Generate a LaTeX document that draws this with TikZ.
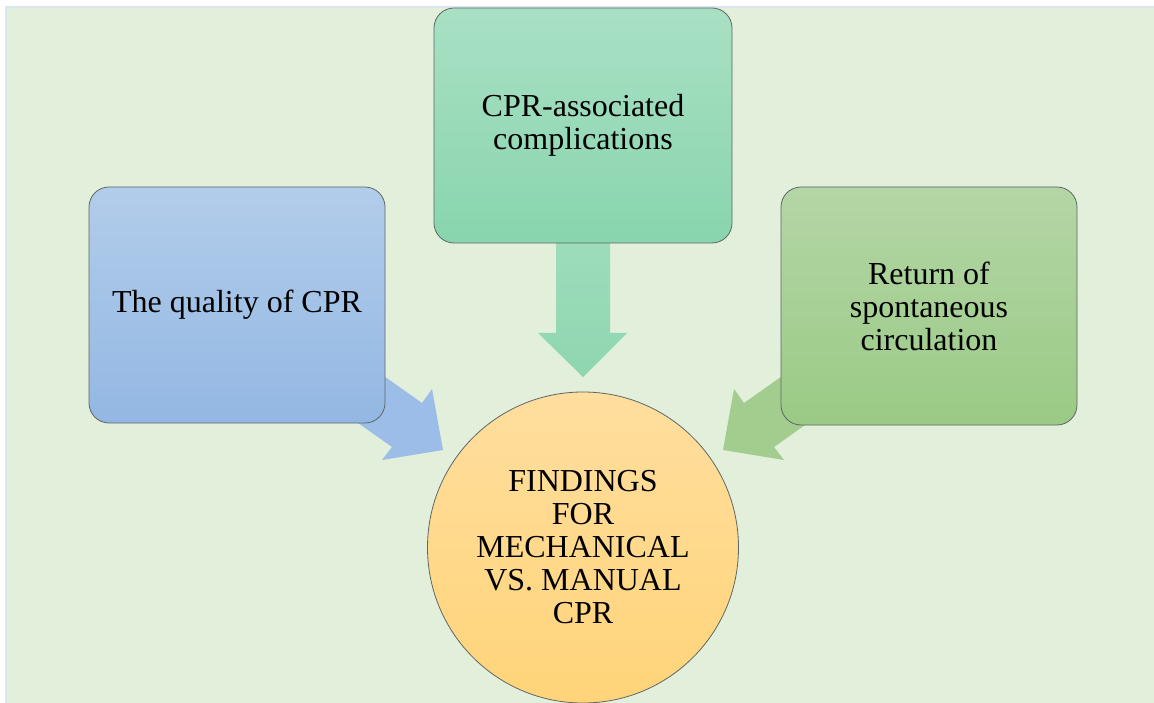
\documentclass[tikz,border=0pt]{standalone}
\usepackage{fontspec}
\setmainfont{Liberation Serif}
\definecolor{bgblue}{HTML}{DCE6F2}
\definecolor{bggreen}{HTML}{E2EFDA}
\definecolor{edge}{HTML}{5F6668}
\definecolor{blueT}{HTML}{B2CDEA}
\definecolor{blueB}{HTML}{93B7E3}
\definecolor{tealT}{HTML}{A9E0C4}
\definecolor{tealB}{HTML}{88D5AE}
\definecolor{grnT}{HTML}{B4D6A6}
\definecolor{grnB}{HTML}{9ACA85}
\definecolor{orT}{HTML}{FFDE9E}
\definecolor{orB}{HTML}{FFD479}
\definecolor{arrBlue}{HTML}{9BBDE7}
\definecolor{arrTealT}{HTML}{9EDDBC}
\definecolor{arrTealB}{HTML}{8ED6B0}
\definecolor{arrGrn}{HTML}{A2CD8E}
\begin{document}
\begin{tikzpicture}[x=1pt,y=-1pt,
  txt/.style={font=\fontsize{32}{33}\selectfont, align=center, text=black},
  boxnode/.style={txt, draw=edge, line width=0.8pt, rounded corners=20pt,
     inner sep=0pt, outer sep=0pt}]
\useasboundingbox (0,0) rectangle (1154,703);
% background
\fill[white] (0,0) rectangle (1154,703);
\fill[bgblue] (5,6) rectangle (1164,713);
\fill[bggreen] (7,8) rectangle (1164,713);
% block arrows (behind shapes)
\fill[arrBlue] (340,345) -- (422,403) -- (432,389) -- (443,450) -- (382,460) -- (392,447) -- (310,389) -- cycle;
\fill[arrGrn] (826,345) -- (744,403) -- (734,389) -- (723,450) -- (784,460) -- (774,447) -- (856,389) -- cycle;
\shade[top color=arrTealT, bottom color=arrTealB] (556,230) -- (610,230) -- (610,333) -- (627,333) -- (583,377) -- (538,333) -- (556,333) -- cycle;
% nodes
\node[boxnode, top color=blueT, bottom color=blueB, minimum width=296pt, minimum height=236pt] (quality) at (237,305) {The quality of CPR};
\node[boxnode, top color=tealT, bottom color=tealB, minimum width=298pt, minimum height=235pt] (compl) at (583,125.5) {CPR-associated\\complications};
\node[boxnode, top color=grnT, bottom color=grnB, minimum width=296pt, minimum height=238pt] (rosc) at (929,306) {Return of\\spontaneous\\circulation};
\node[txt, circle, draw=edge, line width=0.8pt, top color=orT, bottom color=orB, minimum size=311pt, inner sep=0pt] (find) at (583,547.5) {FINDINGS\\FOR\\MECHANICAL\\VS. MANUAL\\CPR};
\end{tikzpicture}
\end{document}
